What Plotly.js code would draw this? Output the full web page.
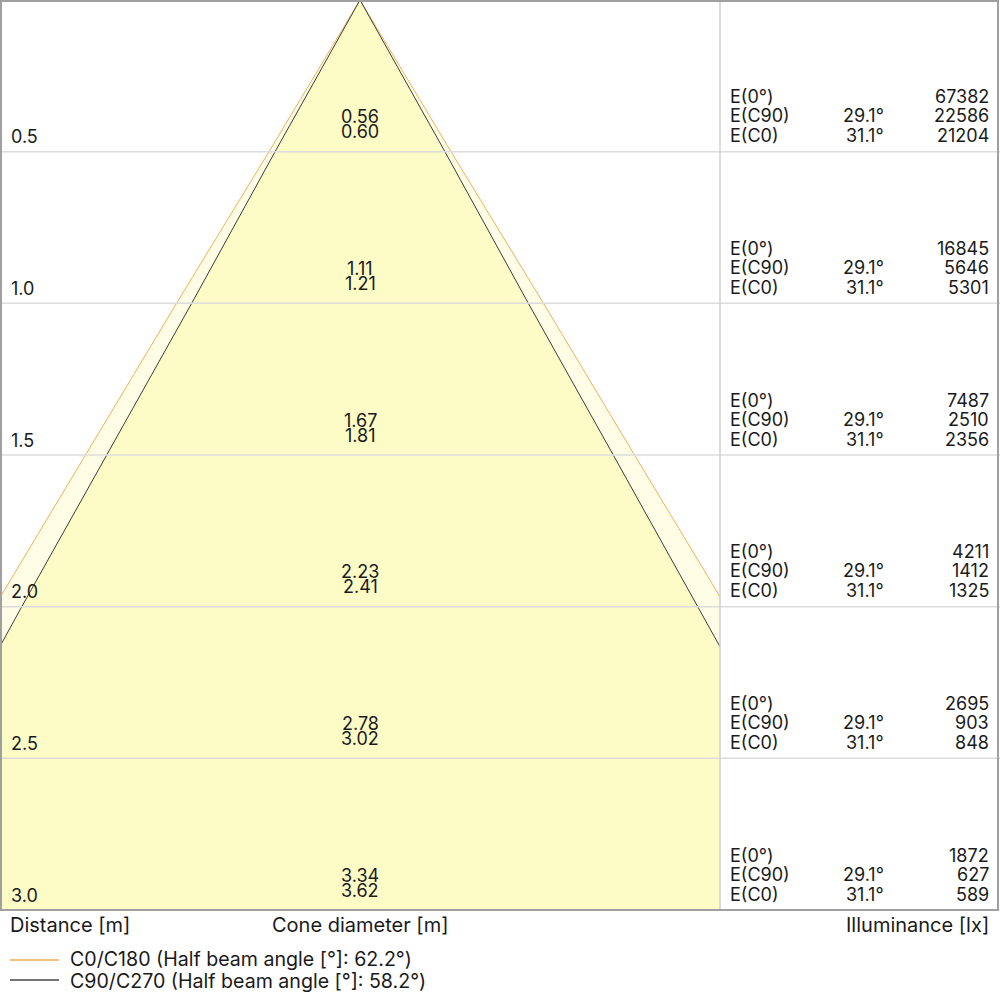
<!DOCTYPE html>
<html>
<head>
<meta charset="utf-8">
<script src="https://cdn.plot.ly/plotly-3.0.1.min.js"></script>
<style>
  html, body { margin: 0; padding: 0; background: #fff; }
  #chart { width: 1000px; height: 1000px; }
</style>
</head>
<body>
<div id="chart"></div>
<script>
// ---- Data ----
const distances = [0.5, 1.0, 1.5, 2.0, 2.5, 3.0];
const distanceLabels = ['0.5', '1.0', '1.5', '2.0', '2.5', '3.0'];
const diamC0 = [0.60, 1.21, 1.81, 2.41, 3.02, 3.62];
const diamC90 = [0.56, 1.11, 1.67, 2.23, 2.78, 3.34];
const illumCenter = [67382, 16845, 7487, 4211, 2695, 1872];
const illumC90 = [22586, 5646, 2510, 1412, 903, 627];
const illumC0 = [21204, 5301, 2356, 1325, 848, 589];
const angleC90 = '29.1°';
const angleC0 = '31.1°';
const rowLabels = ['E(0°)', 'E(C90)', 'E(C0)'];
const axisLabels = ['Distance [m]', 'Cone diameter [m]', 'Illuminance [lx]'];
const legendC0 = 'C0/C180 (Half beam angle [°]: 62.2°)';
const legendC90 = 'C90/C270 (Half beam angle [°]: 58.2°)';

// ---- Styles ----
const FAMILY = 'Inter, "Noto Sans", sans-serif';
const FONT = {family: FAMILY, size: 18, color: '#1a1a1a'};
const FONT_AXIS = {family: FAMILY, size: 20, color: '#1a1a1a'};
const FONT_LEG = {family: FAMILY, size: 19.6, color: '#1a1a1a'};
const ORANGE = '#f2b05a';
const DARK = '#3c3c3c';
const LEG_ORANGE = '#f5c27e';
const LEG_DARK = '#747474';
const FILL_C0 = '#fffde6';
const FILL_C90 = '#fdfbc6';
const GRID = '#dcdcdc';
const BORDER = '#a0a0a0';

const W = 1000, H = 1000, B = 90;
const plotH = H - B;
const pxPerM = plotH / 3;
const coneFrac = 0.72;
const halfRange = (W * coneFrac / 2) / pxPerM;

function coneX(diams) {
  return diams.slice().reverse().map(v => -v / 2).concat([0], diams.map(v => v / 2));
}
function coneY() {
  return distances.slice().reverse().concat([0], distances);
}

const traces = [
  {
    x: coneX(diamC0), y: coneY(), type: 'scatter', mode: 'lines',
    fill: 'toself', fillcolor: FILL_C0,
    line: {color: ORANGE, width: 1}, hoverinfo: 'skip', showlegend: false
  },
  {
    x: coneX(diamC90), y: coneY(), type: 'scatter', mode: 'lines',
    fill: 'toself', fillcolor: FILL_C90,
    line: {color: DARK, width: 1}, hoverinfo: 'skip', showlegend: false
  }
];

const shapes = [];
const annotations = [];

// horizontal grid lines across the full width
distances.forEach(d => {
  shapes.push({type: 'line', xref: 'paper', yref: 'y', x0: 0, x1: 1, y0: d, y1: d,
    line: {color: GRID, width: 1.5}});
});
// vertical separator
shapes.push({type: 'line', xref: 'paper', yref: 'paper', x0: coneFrac, x1: coneFrac, y0: 0, y1: 1,
  line: {color: '#cfcfcf', width: 1.5}});
// outer frame
shapes.push({type: 'rect', xref: 'paper', yref: 'paper', x0: 0.001, x1: 0.998, y0: 0, y1: 1 - 1 / plotH,
  line: {color: BORDER, width: 2}});

function ann(o) {
  annotations.push(Object.assign({showarrow: false, font: FONT, yanchor: 'middle'}, o));
}

distances.forEach((d, i) => {
  ann({xref: 'paper', yref: 'y', x: 0.009, y: d, xanchor: 'left', yshift: 15, text: distanceLabels[i]});
  ann({xref: 'x', yref: 'y', x: 0, y: d, xanchor: 'center', yshift: 35, text: diamC90[i].toFixed(2)});
  ann({xref: 'x', yref: 'y', x: 0, y: d, xanchor: 'center', yshift: 20, text: diamC0[i].toFixed(2)});
  ann({xref: 'paper', yref: 'y', x: 0.728, y: d, xanchor: 'left', yshift: 55, text: rowLabels[0]});
  ann({xref: 'paper', yref: 'y', x: 0.728, y: d, xanchor: 'left', yshift: 36, text: rowLabels[1]});
  ann({xref: 'paper', yref: 'y', x: 0.728, y: d, xanchor: 'left', yshift: 16, text: rowLabels[2]});
  ann({xref: 'paper', yref: 'y', x: 0.886, y: d, xanchor: 'right', yshift: 36, text: angleC90});
  ann({xref: 'paper', yref: 'y', x: 0.886, y: d, xanchor: 'right', yshift: 16, text: angleC0});
  ann({xref: 'paper', yref: 'y', x: 0.991, y: d, xanchor: 'right', yshift: 55, text: String(illumCenter[i])});
  ann({xref: 'paper', yref: 'y', x: 0.991, y: d, xanchor: 'right', yshift: 36, text: String(illumC90[i])});
  ann({xref: 'paper', yref: 'y', x: 0.991, y: d, xanchor: 'right', yshift: 16, text: String(illumC0[i])});
});

// bottom labels
ann({xref: 'paper', yref: 'paper', x: 0.008, y: 0, xanchor: 'left', yshift: -15, text: axisLabels[0], font: FONT_AXIS});
ann({xref: 'x', yref: 'paper', x: 0, y: 0, xanchor: 'center', yshift: -15, text: axisLabels[1], font: FONT_AXIS});
ann({xref: 'paper', yref: 'paper', x: 0.991, y: 0, xanchor: 'right', yshift: -15, text: axisLabels[2], font: FONT_AXIS});

// legend
const legY1 = -49 / plotH, legY2 = -71 / plotH;
shapes.push({type: 'line', xref: 'paper', yref: 'paper', x0: 0.01, x1: 0.059, y0: -50 / plotH, y1: -50 / plotH,
  line: {color: LEG_ORANGE, width: 2}});
shapes.push({type: 'line', xref: 'paper', yref: 'paper', x0: 0.01, x1: 0.059, y0: -70 / plotH, y1: -70 / plotH,
  line: {color: LEG_DARK, width: 2}});
ann({xref: 'paper', yref: 'paper', x: 0.068, y: legY1, xanchor: 'left', text: legendC0, font: FONT_LEG});
ann({xref: 'paper', yref: 'paper', x: 0.068, y: legY2, xanchor: 'left', text: legendC90, font: FONT_LEG});

const layout = {
  width: W, height: H,
  margin: {l: 0, r: 0, t: 0, b: B, pad: 0},
  paper_bgcolor: '#fff', plot_bgcolor: 'rgba(0,0,0,0)',
  showlegend: false,
  font: FONT,
  xaxis: {domain: [0, coneFrac], range: [-halfRange, halfRange], visible: false, fixedrange: true},
  yaxis: {range: [3, 0], visible: false, fixedrange: true},
  shapes: shapes,
  annotations: annotations
};

Plotly.newPlot('chart', traces, layout, {staticPlot: true, displayModeBar: false});
</script>
</body>
</html>
